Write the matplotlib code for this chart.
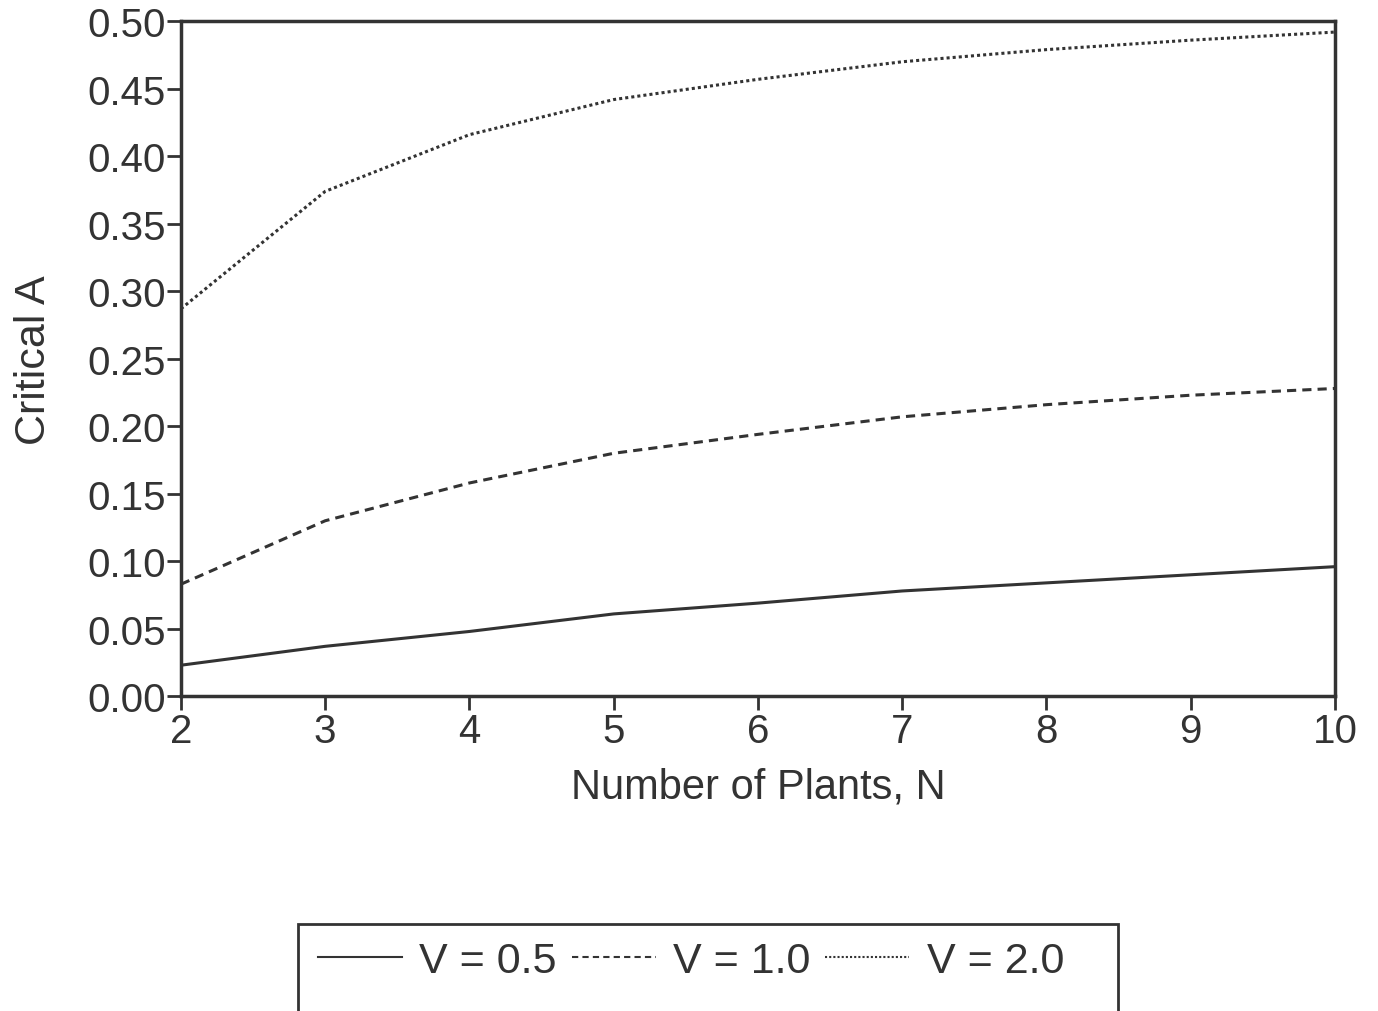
import matplotlib
matplotlib.use('Agg')
from matplotlib import pyplot as plt
from matplotlib.patches import Rectangle

plt.rcParams['font.family'] = ['Liberation Sans', 'DejaVu Sans']

# Nombre de plantes
n_plants = [2, 3, 4, 5, 6, 7, 8, 9, 10]

# Critical A per cada V
a_v05 = [0.023, 0.037, 0.048, 0.061, 0.069, 0.078, 0.084, 0.090, 0.096]
a_v10 = [0.083, 0.130, 0.158, 0.180, 0.194, 0.207, 0.216, 0.223, 0.228]
a_v20 = [0.287, 0.374, 0.416, 0.442, 0.457, 0.470, 0.479, 0.486, 0.492]

etiquetes = ['V = 0.5', 'V = 1.0', 'V = 2.0']

color = '#333333'

fig = plt.figure(figsize=(13.78, 10.12), dpi=100)
ax = fig.add_axes([0.1313, 0.311, 0.8375, 0.667])

ax.plot(n_plants, a_v05, color=color, lw=2.2, linestyle='-', label=etiquetes[0])
ax.plot(n_plants, a_v10, color=color, lw=2.2, linestyle=(0, (3, 2)), label=etiquetes[1])
ax.plot(n_plants, a_v20, color=color, lw=2.2, linestyle=(0, (1, 1)), label=etiquetes[2])

ax.set_xlim(2, 10)
ax.set_ylim(0, 0.50)
ax.set_xticks(n_plants)
ax.set_yticks([i * 0.05 for i in range(11)])
ax.set_yticklabels(['%.2f' % (i * 0.05) for i in range(11)])

for s in ax.spines.values():
    s.set_color(color)
    s.set_linewidth(2.5)

ax.tick_params(axis='both', colors=color, labelcolor=color, labelsize=29,
               length=10, width=2, direction='out', pad=1)

ax.set_xlabel('Number of Plants, N', fontsize=30, color=color, labelpad=12)
ax.set_ylabel('Critical A', fontsize=31, color=color, labelpad=24)

leg = fig.legend(loc='center left', bbox_to_anchor=(0.2308, 0.049), ncol=3,
                 fontsize=31, frameon=False, handlelength=1.95,
                 handletextpad=0.4, columnspacing=0.35,
                 borderpad=0, borderaxespad=0, labelcolor=color)
for t in leg.get_lines():
    t.set_linewidth(1.5)

# Caixa de la llegenda, tallada per baix com a l'original
caixa = Rectangle((0.2163, -0.05), 0.595, 0.136, transform=fig.transFigure,
                  fill=False, edgecolor=color, linewidth=2)
fig.patches.append(caixa)

fig.savefig('out.png', dpi=100)
